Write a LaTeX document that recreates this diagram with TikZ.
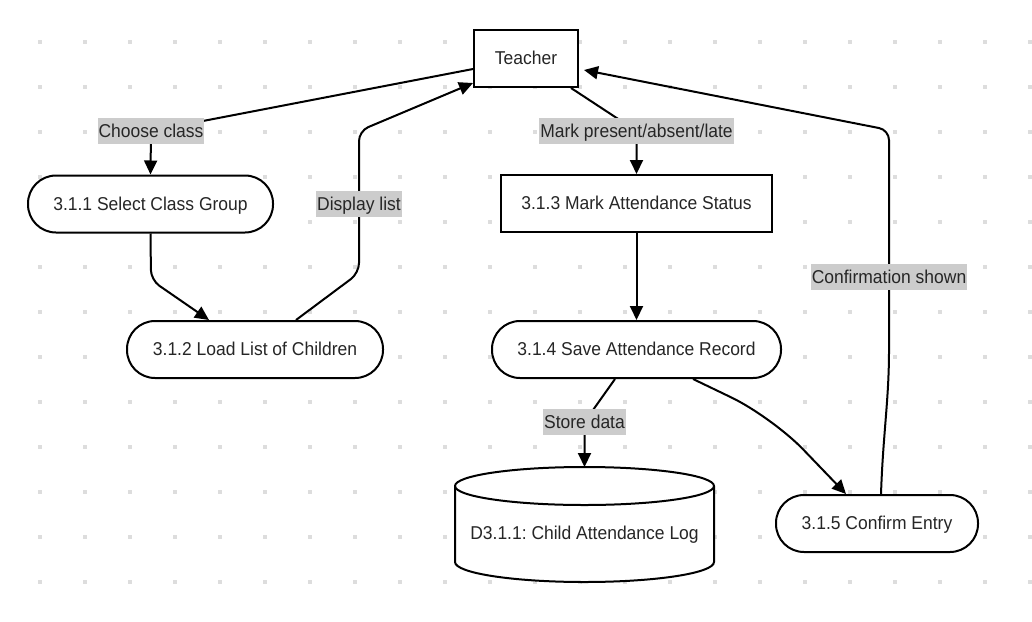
\documentclass[tikz,border=0pt]{standalone}
\usepackage{fontspec}
\setmainfont{Liberation Sans}[FakeStretch=0.94]
\usetikzlibrary{arrows.meta,calc}
\definecolor{dotc}{HTML}{DDDDDD}
\definecolor{labc}{HTML}{CCCCCC}
\definecolor{txtc}{HTML}{262626}
\frenchspacing
\begin{document}
\begin{tikzpicture}[x=1pt,y=-1pt,
  every node/.style={font=\fontsize{18.6pt}{22pt}\selectfont, text=txtc, text height=13.3pt, text depth=1pt},
  procbox/.style={draw=black, line width=2pt, fill=white, rounded corners=28pt, minimum height=57pt, inner sep=0pt},
  rectbox/.style={draw=black, line width=2pt, fill=white, minimum height=57pt, inner sep=0pt},
  lab/.style={fill=labc, inner xsep=1pt, inner ysep=0pt, minimum height=26pt},
  arr/.style={line width=2pt, draw=black, -{Triangle[length=14pt,width=13pt]}},
  ln/.style={line width=2pt, draw=black}
]
\useasboundingbox (0,0) rectangle (1032,621);
\fill[white] (0,0) rectangle (1032,621);
% dot grid
\foreach \i in {0,...,22}{
  \foreach \j in {0,...,12}{
    \fill[dotc] ({40+45*\i-2},{42+45*\j-2}) rectangle ++(4,4);
  }
}
% nodes
\node[rectbox, minimum width=104pt] (teacher) at (526,58.5) {Teacher};
\node[procbox, minimum width=245pt] (s311) at (150.5,204) {3.1.1 Select Class Group};
\node[procbox, minimum width=256pt] (s312) at (255,349.5) {3.1.2 Load List of Children};
\node[rectbox, minimum width=271pt] (s313) at (636.5,203.5) {3.1.3 Mark Attendance Status};
\node[procbox, minimum width=289pt] (s314) at (636.5,349.5) {3.1.4 Save Attendance Record};
\node[procbox, minimum width=202pt] (s315) at (877,523.5) {3.1.5 Confirm Entry};
% data store cylinder
\filldraw[line width=2pt, fill=white] (455,486) -- (455,562)
  arc[start angle=180, end angle=360, x radius=129.5pt, y radius=20pt] -- (714,486)
  arc[start angle=0, end angle=180, x radius=129.5pt, y radius=19pt] -- cycle;
\draw[line width=2pt] (455,486) arc[start angle=180, end angle=360, x radius=129.5pt, y radius=19pt];
\node (d311) at (584.5,533) {D3.1.1: Child Attendance Log};
\coordinate (d311top) at (584.5,467);
% bend coordinates
\coordinate (c1) at (151,131);
\coordinate (c2) at (151,280);
\coordinate (c3a) at (359,273);
\coordinate (c3b) at (359,131);
\coordinate (c4) at (636.5,131);
\coordinate (c6) at (584.5,422);
\coordinate (c7) at (772,417);
\coordinate (c8a) at (889,340);
\coordinate (c8b) at (889,130);
% connectors
\draw[arr] ([yshift=-10.5pt]teacher.west) -- (c1) -- (s311.north);
\draw[arr, rounded corners=10pt] (s311.south) -- (c2) -- ([xshift=-46pt]s312.north);
\draw[arr, rounded corners=10pt] ([xshift=41pt]s312.north) -- (c3a) -- (c3b) -- ([yshift=5pt]teacher.south west);
\draw[arr] ([xshift=-8pt]teacher.south east) -- (c4) -- (s313.north);
\draw[arr] (s313.south) -- (s314.north);
\draw[arr] ([xshift=-21.5pt]s314.south) -- (c6) -- (d311top);
\draw[arr, rounded corners=45pt] ([xshift=56.5pt]s314.south) -- (c7) -- ([xshift=-31pt]s315.north);
\draw[arr, rounded corners=10pt] ([xshift=4pt]s315.north) .. controls +(2,-60) and +(0,60) .. (c8a) -- (c8b) -- ([xshift=5pt,yshift=-11.5pt]teacher.east);
% labels
\node[lab] (lchoose) at (c1) {Choose class};
\node[lab] (ldisplay) at (359,204) {Display list};
\node[lab] (lmark) at (c4) {Mark present/absent/late};
\node[lab] (lstore) at (c6) {Store data};
\node[lab] (lconfirm) at (889,277) {Confirmation shown};
\end{tikzpicture}
\end{document}
